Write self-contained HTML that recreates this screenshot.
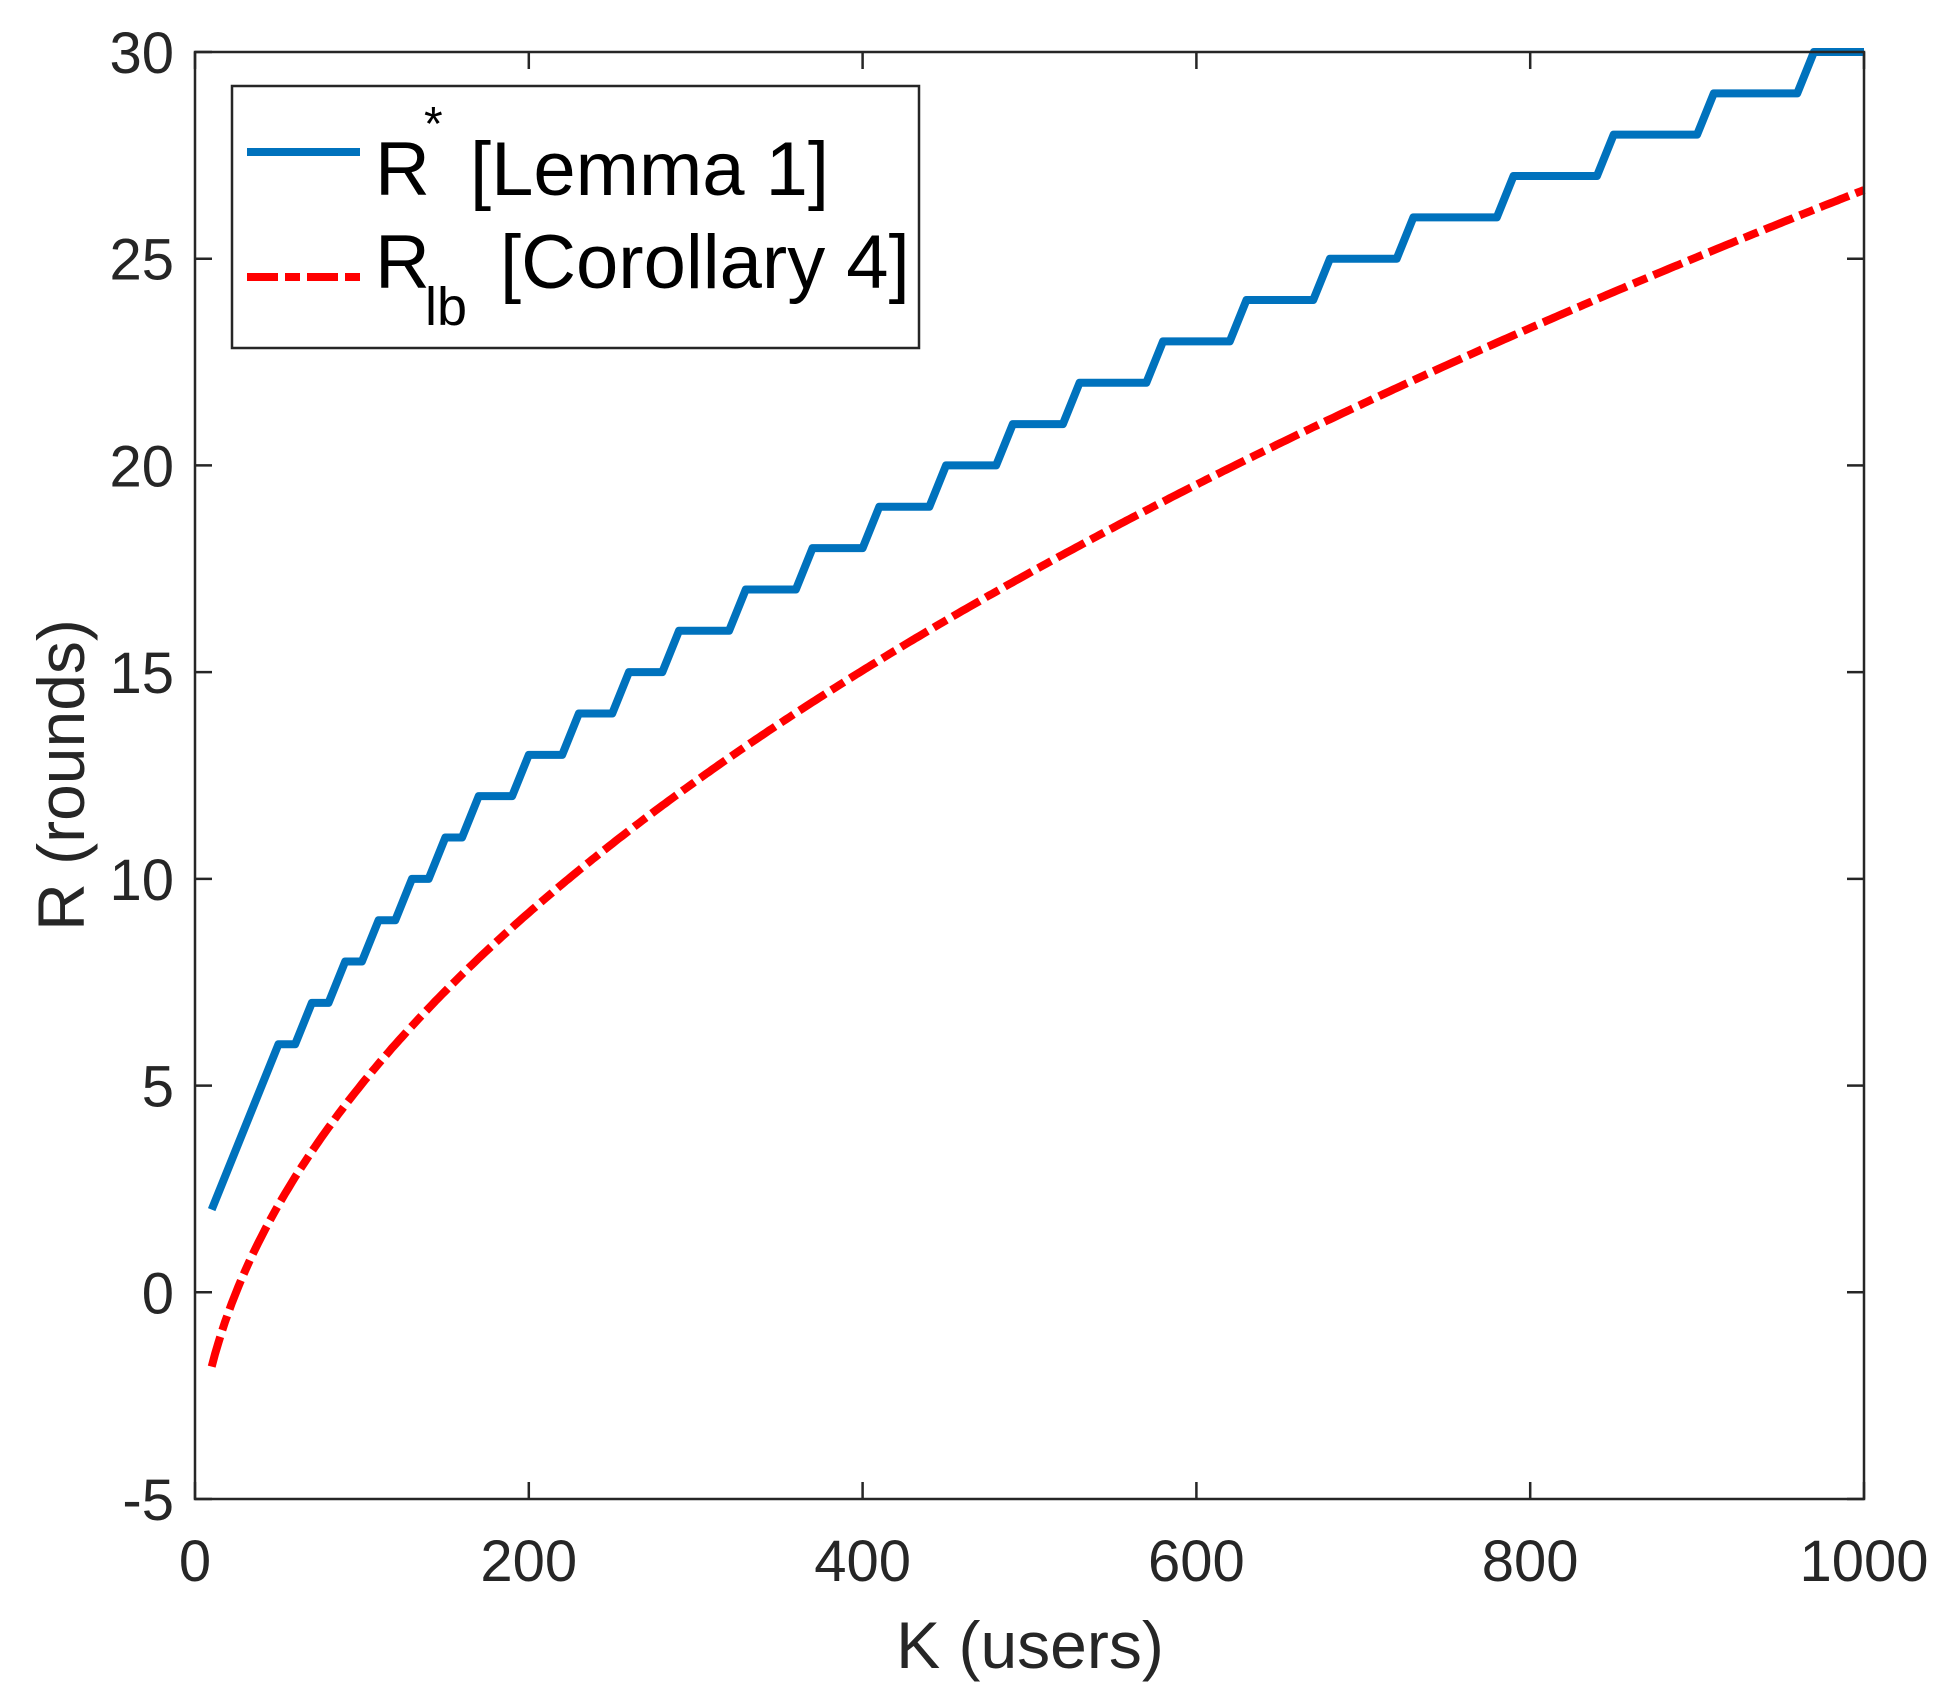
<!DOCTYPE html>
<html><head><meta charset="utf-8">
<style>
html,body{margin:0;padding:0;background:#fff;}
svg{display:block;font-family:"Liberation Sans",sans-serif;}
</style></head>
<body>
<svg id="s" width="1951" height="1702" viewBox="0 0 1951 1702" xmlns="http://www.w3.org/2000/svg">
<rect width="1951" height="1702" fill="#fff"/>
<g id="ticks" stroke="#262626" stroke-width="2.5"></g>
<g id="labels" fill="#262626" font-size="58"></g>
<path id="blue" fill="none" stroke="#0072BD" stroke-width="8" stroke-linejoin="round"/>
<path id="red" fill="none" stroke="#FF0000" stroke-width="8" stroke-dasharray="31 7 15 7"/>
<rect x="195" y="52" width="1669" height="1447" fill="none" stroke="#262626" stroke-width="2.5"/>
<text x="1030" y="1668" text-anchor="middle" font-size="66" fill="#262626">K (users)</text>
<text transform="translate(84,775) rotate(-90)" text-anchor="middle" font-size="66" fill="#262626">R (rounds)</text>
<rect x="232" y="86" width="687" height="262" fill="#fff" stroke="#262626" stroke-width="2.5"/>
<line x1="247" y1="152" x2="360" y2="152" stroke="#0072BD" stroke-width="8"/>
<line x1="247" y1="277" x2="360" y2="277" stroke="#FF0000" stroke-width="8" stroke-dasharray="31 7 15 7"/>
<g fill="#000" font-size="76">
<text x="375" y="195">R</text>
<text x="424" y="140" font-size="48">*</text>
<text x="470" y="195">[Lemma 1]</text>
<text x="375" y="288">R</text>
<text x="425" y="325" font-size="54">lb</text>
<text x="500" y="288">[Corollary 4]</text>
</g>
</svg>
<script>
var X=function(k){return 195+k*1.669;}, Y=function(r){return 1499-(r+5)*41.343;};
var t=document.getElementById('ticks'), l=document.getElementById('labels'), ns="http://www.w3.org/2000/svg";
function line(a,b,c,d){var e=document.createElementNS(ns,'line');e.setAttribute('x1',a);e.setAttribute('y1',b);e.setAttribute('x2',c);e.setAttribute('y2',d);t.appendChild(e);}
function txt(x,y,s,anc){var e=document.createElementNS(ns,'text');e.setAttribute('x',x);e.setAttribute('y',y);e.setAttribute('text-anchor',anc);e.textContent=s;l.appendChild(e);}
for(var k=0;k<=1000;k+=200){var x=X(k);line(x,1499,x,1482);line(x,52,x,69);txt(x,1581,k,'middle');}
for(var r=-5;r<=30;r+=5){var y=Y(r);line(195,y,212,y);line(1864,y,1847,y);txt(174,y+21,r,'end');}
var steps=[[50,60,6],[70,80,7],[90,100,8],[110,120,9],[130,140,10],[150,160,11],[170,190,12],[200,220,13],[230,250,14],[260,280,15],[290,320,16],[330,360,17],[370,400,18],[410,440,19],[450,480,20],[490,520,21],[530,570,22],[580,620,23],[630,670,24],[680,720,25],[730,780,26],[790,840,27],[850,900,28],[910,960,29],[970,1000,30]];
var d="M"+X(10)+","+Y(2);
steps.forEach(function(s){d+=" L"+X(s[0])+","+Y(s[2])+" L"+X(s[1])+","+Y(s[2]);});
document.getElementById('blue').setAttribute('d',d);
var d2="";
for(var k=10;k<=1000;k+=2){var v=Math.sqrt(k)-4.96;d2+=(k==10?"M":" L")+X(k).toFixed(1)+","+Y(v).toFixed(1);}
document.getElementById('red').setAttribute('d',d2);
</script>
</body></html>
